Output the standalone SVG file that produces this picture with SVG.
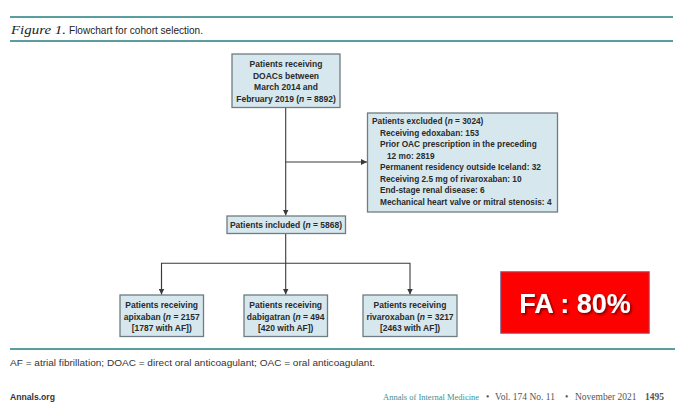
<svg xmlns="http://www.w3.org/2000/svg" width="700" height="419" viewBox="0 0 700 419">
  <defs>
    <marker id="arr" viewBox="0 0 6 6" refX="6" refY="3" markerWidth="6" markerHeight="6" markerUnits="userSpaceOnUse" orient="auto">
      <path d="M0,0 L6,3 L0,6 Z" fill="#3a3a3a"/>
    </marker>
    <filter id="shadow" x="-10%" y="-20%" width="130%" height="150%">
      <feDropShadow dx="1.5" dy="1.5" stdDeviation="0.8" flood-color="#4a0000" flood-opacity="0.8"/>
    </filter>
    <style>
      .box { fill: #d6e8ee; stroke: #6f7c82; stroke-width: 1.3; }
      .bt { font-family: "Liberation Sans", Arial, sans-serif; font-size: 8.5px; font-weight: bold; fill: #2a2a2a; }
      .ex { font-size: 8.3px; }
      .c { text-anchor: middle; }
      .conn { stroke: #3a3a3a; stroke-width: 1.1; fill: none; }
      .rule { stroke: #5a9ea0; stroke-width: 2; }
      .foot { font-family: "Liberation Sans", Arial, sans-serif; font-size: 9px; fill: #333; }
      .jr { font-family: "Liberation Serif", "Times New Roman", serif; font-size: 9.5px; fill: #555; }
      .jt { font-size: 8.5px; fill: #3f8f92; }
    </style>
  </defs>
  <rect width="700" height="419" fill="#ffffff"/>

  <g id="header">
    <line class="rule" x1="10" y1="17" x2="673" y2="17"/>
    <text x="11" y="34" font-family="Liberation Serif, serif" font-style="italic" font-size="11.5px" fill="#222" textLength="55" lengthAdjust="spacingAndGlyphs">Figure 1.</text>
    <text x="69" y="34" font-family="Liberation Sans, Arial, sans-serif" font-size="10.5px" fill="#222" textLength="134" lengthAdjust="spacingAndGlyphs">Flowchart for cohort selection.</text>
    <line class="rule" x1="10" y1="41" x2="673" y2="41"/>
  </g>

  <g id="connectors">
    <line class="conn" x1="285.7" y1="107.5" x2="285.7" y2="215.5" marker-end="url(#arr)"/>
    <line class="conn" x1="285.7" y1="162" x2="367" y2="162" marker-end="url(#arr)"/>
    <line class="conn" x1="285.7" y1="233.5" x2="285.7" y2="294.5" marker-end="url(#arr)"/>
    <polyline class="conn" points="161.5,294.5 161.5,263.3 410,263.3 410,294.5" marker-end="url(#arr)"/>
    <line class="conn" x1="161.5" y1="270" x2="161.5" y2="294.5" marker-end="url(#arr)"/>
  </g>

  <g id="node-start">
    <rect class="box" x="232" y="54" width="108" height="53.5"/>
    <text class="bt c" x="286" y="67">Patients receiving</text>
    <text class="bt c" x="286" y="78.5">DOACs between</text>
    <text class="bt c" x="286" y="90">March 2014 and</text>
    <text class="bt c" x="286" y="101.5">February 2019 (<tspan font-style="italic">n</tspan> = 8892)</text>
  </g>

  <g id="node-excluded">
    <rect class="box" x="367.5" y="113" width="190" height="99"/>
    <text class="bt ex" x="372" y="124">Patients excluded (<tspan font-style="italic">n</tspan> = 3024)</text>
    <text class="bt ex" x="380" y="135.5">Receiving edoxaban: 153</text>
    <text class="bt ex" x="380" y="147">Prior OAC prescription in the preceding</text>
    <text class="bt ex" x="387" y="158.5">12 mo: 2819</text>
    <text class="bt ex" x="380" y="170">Permanent residency outside Iceland: 32</text>
    <text class="bt ex" x="380" y="181.5">Receiving 2.5 mg of rivaroxaban: 10</text>
    <text class="bt ex" x="380" y="193">End-stage renal disease: 6</text>
    <text class="bt ex" x="380" y="204.5">Mechanical heart valve or mitral stenosis: 4</text>
  </g>

  <g id="node-included">
    <rect class="box" x="227" y="216" width="118.5" height="17.5"/>
    <text class="bt c" x="286" y="227.8">Patients included (<tspan font-style="italic">n</tspan> = 5868)</text>
  </g>

  <g id="node-apixaban">
    <rect class="box" x="120" y="295" width="83.5" height="41.5"/>
    <text class="bt c" x="161.7" y="308">Patients receiving</text>
    <text class="bt c" x="161.7" y="319.5">apixaban (<tspan font-style="italic">n</tspan> = 2157</text>
    <text class="bt c" x="161.7" y="331">[1787 with AF])</text>
  </g>

  <g id="node-dabigatran">
    <rect class="box" x="244" y="295" width="83.5" height="41.5"/>
    <text class="bt c" x="285.7" y="308">Patients receiving</text>
    <text class="bt c" x="285.7" y="319.5">dabigatran (<tspan font-style="italic">n</tspan> = 494</text>
    <text class="bt c" x="285.7" y="331">[420 with AF])</text>
  </g>

  <g id="node-rivaroxaban">
    <rect class="box" x="363" y="295" width="94" height="41.5"/>
    <text class="bt c" x="410" y="308">Patients receiving</text>
    <text class="bt c" x="410" y="319.5">rivaroxaban (<tspan font-style="italic">n</tspan> = 3217</text>
    <text class="bt c" x="410" y="331">[2463 with AF])</text>
  </g>

  <g id="badge">
    <rect x="500.7" y="271.7" width="148.6" height="61.6" fill="#ff0000" stroke="#7d6e9c" stroke-width="1"/>
    <text x="575" y="312.5" text-anchor="middle" font-family="Liberation Sans, Arial, sans-serif" font-size="27px" font-weight="bold" fill="#ffffff" filter="url(#shadow)">FA : 80%</text>
  </g>

  <g id="footer">
    <line class="rule" x1="10" y1="349" x2="675" y2="349"/>
    <text class="foot" x="10" y="366" textLength="365" lengthAdjust="spacingAndGlyphs">AF = atrial fibrillation; DOAC = direct oral anticoagulant; OAC = oral anticoagulant.</text>
    <text class="foot" x="10" y="400" font-weight="bold" textLength="45" lengthAdjust="spacingAndGlyphs">Annals.org</text>
    <text class="jr jt" x="383" y="400">Annals of Internal Medicine</text>
    <text class="jr" x="486" y="400">•</text>
    <text class="jr" x="495" y="400">Vol. 174  No. 11</text>
    <text class="jr" x="565" y="400">•</text>
    <text class="jr" x="575" y="400">November 2021</text>
    <text class="jr" x="645" y="400" font-weight="bold" fill="#222">1495</text>
  </g>
</svg>
